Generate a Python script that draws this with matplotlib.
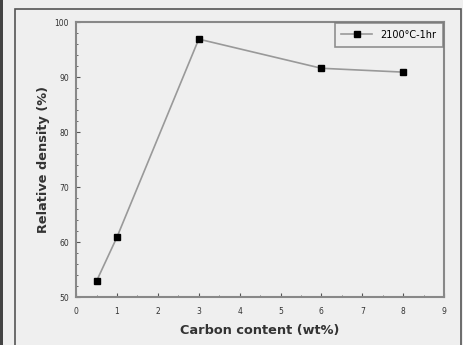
import matplotlib
matplotlib.use('Agg')
import matplotlib.pyplot as plt
from matplotlib.patches import Rectangle
from matplotlib.ticker import MultipleLocator

# data
carbon = [0.5, 1, 3, 6, 8]
density = [52.9, 60.9, 96.9, 91.6, 90.9]
label = '2100\u00b0C-1hr'

fig = plt.figure(figsize=(4.64, 3.45), dpi=100, facecolor='#efefef')
ax = fig.add_axes([0.164, 0.139, 0.793, 0.797])
ax.set_facecolor('#efefef')

# frame lines around the picture
fig.patches.append(Rectangle((0.0, -0.01), 0.006, 1.02, transform=fig.transFigure,
                             facecolor='#444444', edgecolor='none'))
fig.patches.append(Rectangle((0.033, -0.05), 0.96, 1.025, transform=fig.transFigure,
                             facecolor='none', edgecolor='#555555', lw=1.2))

ax.plot(carbon, density, color='#999999', lw=1.2, marker='s', ms=5,
        mfc='black', mec='black', label=label)

ax.set_xlim(0, 9)
ax.set_ylim(50, 100)
ax.xaxis.set_major_locator(MultipleLocator(1))
ax.xaxis.set_minor_locator(MultipleLocator(0.5))
ax.yaxis.set_major_locator(MultipleLocator(10))
ax.yaxis.set_minor_locator(MultipleLocator(2))
ax.tick_params(which='both', direction='in', colors='#555555', labelsize=5.5,
               labelcolor='#333333')
ax.tick_params(which='major', length=3)
ax.tick_params(which='minor', length=1.5)
ax.tick_params(axis='x', pad=7)
ax.tick_params(axis='y', pad=5)
for s in ax.spines.values():
    s.set_color('#888888')
    s.set_linewidth(1.5)

ax.set_xlabel('Carbon content (wt%)', fontsize=9.3, fontweight='bold', color='#333333', labelpad=6)
ax.set_ylabel('Relative density (%)', fontsize=9.3, fontweight='bold', color='#333333', labelpad=3)

leg = ax.legend(loc='upper right', fontsize=7, frameon=True, fancybox=False,
                handlelength=3.2, borderpad=0.7, borderaxespad=0.1)
leg.get_frame().set_edgecolor('#777777')
leg.get_frame().set_facecolor('#efefef')
leg.get_frame().set_linewidth(1.2)

fig.savefig('out.png', dpi=100, facecolor=fig.get_facecolor())
